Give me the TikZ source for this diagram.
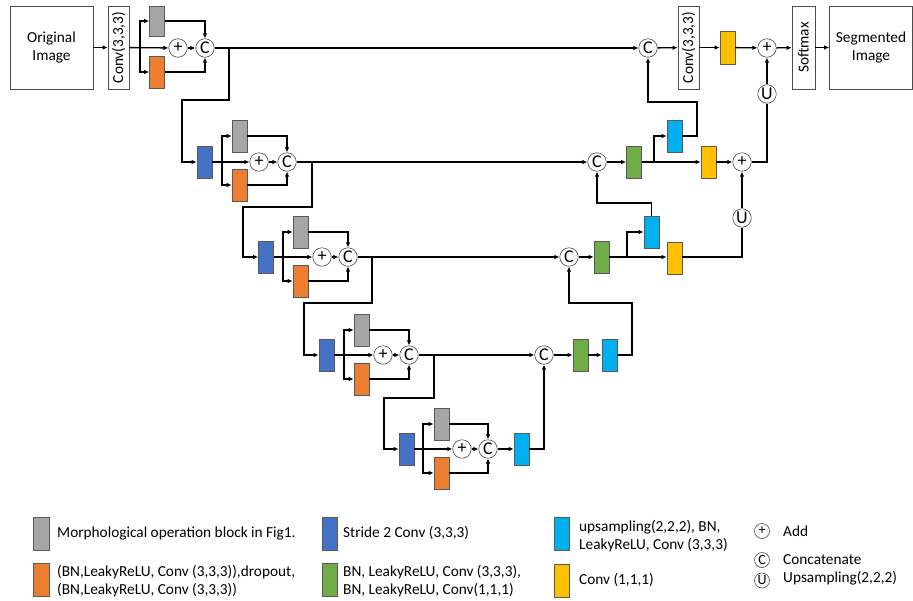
\documentclass[tikz,border=0pt]{standalone}
\usepackage{fontspec}
\setmainfont{Carlito}
\usetikzlibrary{arrows.meta, positioning}

\definecolor{morphgray}{RGB}{166,166,166}
\definecolor{dropor}{RGB}{237,125,49}
\definecolor{strblue}{RGB}{68,114,196}
\definecolor{bngreen}{RGB}{112,173,71}
\definecolor{upcyan}{RGB}{0,176,240}
\definecolor{cvyel}{RGB}{255,192,0}

\begin{document}
\begin{tikzpicture}[
    x=1pt, y=-1pt,
    font=\fontsize{15.3}{18}\selectfont,
    blk/.style={draw=black!65, line width=0.6pt, minimum width=15pt, minimum height=32pt, inner sep=0pt},
    morph/.style={blk, fill=morphgray},
    drop/.style={blk, fill=dropor},
    str/.style={blk, fill=strblue},
    bnc/.style={blk, fill=bngreen},
    upc/.style={blk, fill=upcyan},
    cvy/.style={blk, fill=cvyel},
    op/.style={circle, draw=black!70, line width=0.6pt, minimum size=18.5pt, inner sep=0pt, font=\fontsize{18}{18}\selectfont},
    lop/.style={op, minimum size=15pt, font=\fontsize{14}{14}\selectfont},
    tall/.style={draw=black!70, line width=0.6pt, rotate=90, minimum width=83pt, inner sep=0pt},
    io/.style={draw=black!70, line width=0.6pt, minimum width=83pt, minimum height=83pt, align=center, inner sep=0pt},
    ar/.style={-{Latex[length=5pt, width=4.5pt]}, line width=1.3pt},
    ln/.style={line width=1.3pt},
    lbl/.style={anchor=west, align=left, inner sep=0pt}
]
\useasboundingbox (0,0) rectangle (913,600);

% input side
\node[io] (orig) at (51.5,47.5) {Original\\Image};
\node[tall, minimum height=21pt] (conv1) at (118.5,47.5) {Conv(3,3,3)};

% encoder level 1
\node[morph, minimum height=30pt] (g1) at (157,21) {};
\node[drop] (o1) at (157,72) {};
\node[op] (p1) at (178,48) {+};
\node[op] (c1) at (205,48) {C};
\coordinate (sp1) at (140,48);
\coordinate (bd1) at (229,48);
\coordinate (k1) at (182,100);

% encoder level 2
\node[str] (b2) at (204.5,162) {};
\node[morph] (g2) at (239.5,136) {};
\node[drop] (o2) at (239.5,185) {};
\node[op] (p2) at (259,162) {+};
\node[op] (c2) at (287,162) {C};
\coordinate (sp2) at (222,162);
\coordinate (bd2) at (312,162);
\coordinate (k2) at (243,207);

% encoder level 3
\node[str] (b3) at (266,257) {};
\node[morph] (g3) at (300.5,232) {};
\node[drop] (o3) at (300.5,281) {};
\node[op] (p3) at (322,257) {+};
\node[op] (c3) at (348,257) {C};
\coordinate (sp3) at (283,257);
\coordinate (bd3) at (372,257);
\coordinate (k3) at (304,303);

% encoder level 4
\node[str] (b4) at (326.5,355) {};
\node[morph] (g4) at (361.5,330) {};
\node[drop] (o4) at (361.5,379) {};
\node[op] (p4) at (383,355) {+};
\node[op] (c4) at (409,355) {C};
\coordinate (sp4) at (344,355);
\coordinate (bd4) at (434,355);
\coordinate (k4) at (384,398);

% bottom level
\node[str] (b5) at (406.5,449) {};
\node[morph] (g5) at (441.5,424) {};
\node[drop] (o5) at (441.5,473) {};
\node[op] (p5) at (462,449) {+};
\node[op] (c5) at (488,449) {C};
\node[upc] (u5) at (521.5,449) {};
\coordinate (sp5) at (423,449);

% decoder
\node[op] (cd4) at (544,355) {C};
\node[bnc] (n4) at (580.5,355) {};
\node[upc] (u4) at (609.5,355) {};
\coordinate (r4) at (632,303);

\node[op] (cd3) at (569,257) {C};
\node[bnc] (n3) at (601.5,257) {};
\node[upc] (u3) at (651.5,232) {};
\node[cvy] (y3) at (674.5,258) {};
\node[op] (up3) at (742,218) {U};
\coordinate (sq3) at (627,257);
\coordinate (r3) at (597,203);

\node[op] (cd2) at (597,162) {C};
\node[bnc] (n2) at (634,162) {};
\node[upc] (u2) at (674.5,136) {};
\node[cvy] (y2) at (708.5,162) {};
\node[op] (a2) at (742,162) {+};
\node[op] (up2) at (767,94) {U};
\coordinate (sq2) at (654,162);
\coordinate (r2) at (697,102);

\node[op] (cd1) at (648,48) {C};
\node[tall, minimum height=21pt] (conv2) at (688.5,47.5) {Conv(3,3,3)};
\node[cvy, minimum height=33pt] (y1) at (727.5,47.5) {};
\node[op] (a1) at (767,48) {+};
\node[tall, minimum height=23pt] (soft) at (803.5,47.5) {Softmax};
\node[io] (seg) at (871,47.5) {Segmented\\Image};

% encoder connections
\draw[ar] (orig) -- (conv1);
\draw[ar] (conv1) -- (p1);
\draw[ar] (sp1) |- (g1);
\draw[ar] (sp1) |- (o1);
\draw[ar] (p1) -- (c1);
\draw[ar] (g1) -| (c1);
\draw[ar] (o1) -| (c1);
\draw[ar] (bd1) |- (k1) |- (b2);

\draw[ar] (b2) -- (p2);
\draw[ar] (sp2) |- (g2);
\draw[ar] (sp2) |- (o2);
\draw[ar] (p2) -- (c2);
\draw[ar] (g2) -| (c2);
\draw[ar] (o2) -| (c2);
\draw[ar] (bd2) |- (k2) |- (b3);

\draw[ar] (b3) -- (p3);
\draw[ar] (sp3) |- (g3);
\draw[ar] (sp3) |- (o3);
\draw[ar] (p3) -- (c3);
\draw[ar] (g3) -| (c3);
\draw[ar] (o3) -| (c3);
\draw[ar] (bd3) |- (k3) |- (b4);

\draw[ar] (b4) -- (p4);
\draw[ar] (sp4) |- (g4);
\draw[ar] (sp4) |- (o4);
\draw[ar] (p4) -- (c4);
\draw[ar] (g4) -| (c4);
\draw[ar] (o4) -| (c4);
\draw[ar] (bd4) |- (k4) |- (b5);

\draw[ar] (b5) -- (p5);
\draw[ar] (sp5) |- (g5);
\draw[ar] (sp5) |- (o5);
\draw[ar] (p5) -- (c5);
\draw[ar] (g5) -| (c5);
\draw[ar] (o5) -| (c5);
\draw[ar] (c5) -- (u5);

% skip connections
\draw[ar] (c1) -- (cd1);
\draw[ar] (c2) -- (cd2);
\draw[ar] (c3) -- (cd3);
\draw[ar] (c4) -- (cd4);

% decoder connections
\draw[ar] (u5) -| (cd4);
\draw[ar] (cd4) -- (n4);
\draw[ar] (n4) -- (u4);
\draw[ar] (u4) -| (r4) -| (cd3);

\draw[ar] (cd3) -- (n3);
\draw[ar] (sq3) |- (u3);
\draw[ar] (n3) -- (y3.west |- n3);
\draw[ln] (y3.east |- n3) -| (up3);
\draw[ar] (u3) |- (r3) -- (cd2);

\draw[ar] (cd2) -- (n2);
\draw[ar] (sq2) |- (u2);
\draw[ar] (n2) -- (y2);
\draw[ar] (y2) -- (a2);
\draw[ar] (up3) -- (a2);
\draw[ln] (a2) -| (up2);
\draw[ar] (u2) -| (r2) -| (cd1);

\draw[ar] (cd1) -- (conv2);
\draw[ar] (conv2) -- (y1);
\draw[ar] (y1) -- (a1);
\draw[ar] (up2) -- (a1);
\draw[ar] (a1) -- (soft);
\draw[ar] (soft) -- (seg);

% legend
\node[morph, minimum width=16pt, minimum height=33pt] (lg1) at (41.5,533.5) {};
\node[lbl] (lt1) at (57,533) {Morphological operation block in Fig1.};
\node[drop, minimum width=16pt, minimum height=33pt] (lg2) at (41.5,580) {};
\node[lbl] (lt2) at (57,581) {(BN,LeakyReLU, Conv (3,3,3)),dropout,\\(BN,LeakyReLU, Conv (3,3,3))};
\node[str, minimum height=33pt] (lg3) at (329.5,533.5) {};
\node[lbl] (lt3) at (343,533) {Stride 2 Conv (3,3,3)};
\node[bnc, minimum height=33pt] (lg4) at (329.5,580) {};
\node[lbl] (lt4) at (343,581) {BN, LeakyReLU, Conv (3,3,3),\\BN, LeakyReLU, Conv(1,1,1)};
\node[upc, minimum height=33pt] (lg5) at (561.5,533.5) {};
\node[lbl] (lt5) at (579,536) {upsampling(2,2,2), BN,\\LeakyReLU, Conv (3,3,3)};
\node[cvy, minimum height=33pt] (lg6) at (561.5,580.5) {};
\node[lbl] (lt6) at (579,580) {Conv (1,1,1)};
\node[lop] (lp) at (762,531) {+};
\node[lbl] (lpt) at (783,531) {Add};
\node[lop] (lc) at (762,560) {C};
\node[lbl] (lct) at (783,560) {Concatenate};
\node[lop] (lu) at (762,580.5) {U};
\node[lbl] (lut) at (783,578) {Upsampling(2,2,2)};
\end{tikzpicture}
\end{document}
